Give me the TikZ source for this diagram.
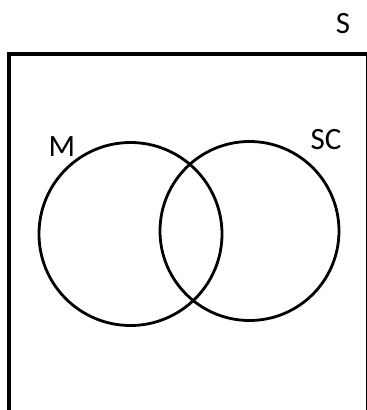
\documentclass[tikz,border=0pt]{standalone}
\usepackage{fontspec}
\setmainfont{Carlito}
\definecolor{setBlack}{RGB}{0,0,0}

\begin{document}
\begin{tikzpicture}[
    x=1pt, y=-1pt,
    universe/.style={
        setBlack,
        line width=3.5pt
    },
    set circle/.style={
        setBlack,
        line width=2.8pt
    },
    set label/.style={
        font=\fontsize{31}{36}\selectfont,
        inner sep=0pt
    }
]

%------------------------------------------------
% Canvas
%------------------------------------------------
\useasboundingbox (0,0) rectangle (367,410);

%------------------------------------------------
% Sample space S
%------------------------------------------------
\begin{scope}
\clip (0,0) rectangle (367,410);
\draw[universe] (9,54) rectangle (368.2,430);
\end{scope}

\node[set label] (labelS) at (343,24) {S};

%------------------------------------------------
% Two events
%------------------------------------------------
\node[set circle, draw, circle, minimum size=183pt, inner sep=0pt]
    (setM) at (130.5,234) {};
\node[set circle, draw, circle, minimum size=179pt, inner sep=0pt]
    (setSC) at (249.5,231) {};

\node[set label] (labelM) at (62,147) {M};
\node[set label] (labelSC) at (326,140) {SC};

\end{tikzpicture}
\end{document}
